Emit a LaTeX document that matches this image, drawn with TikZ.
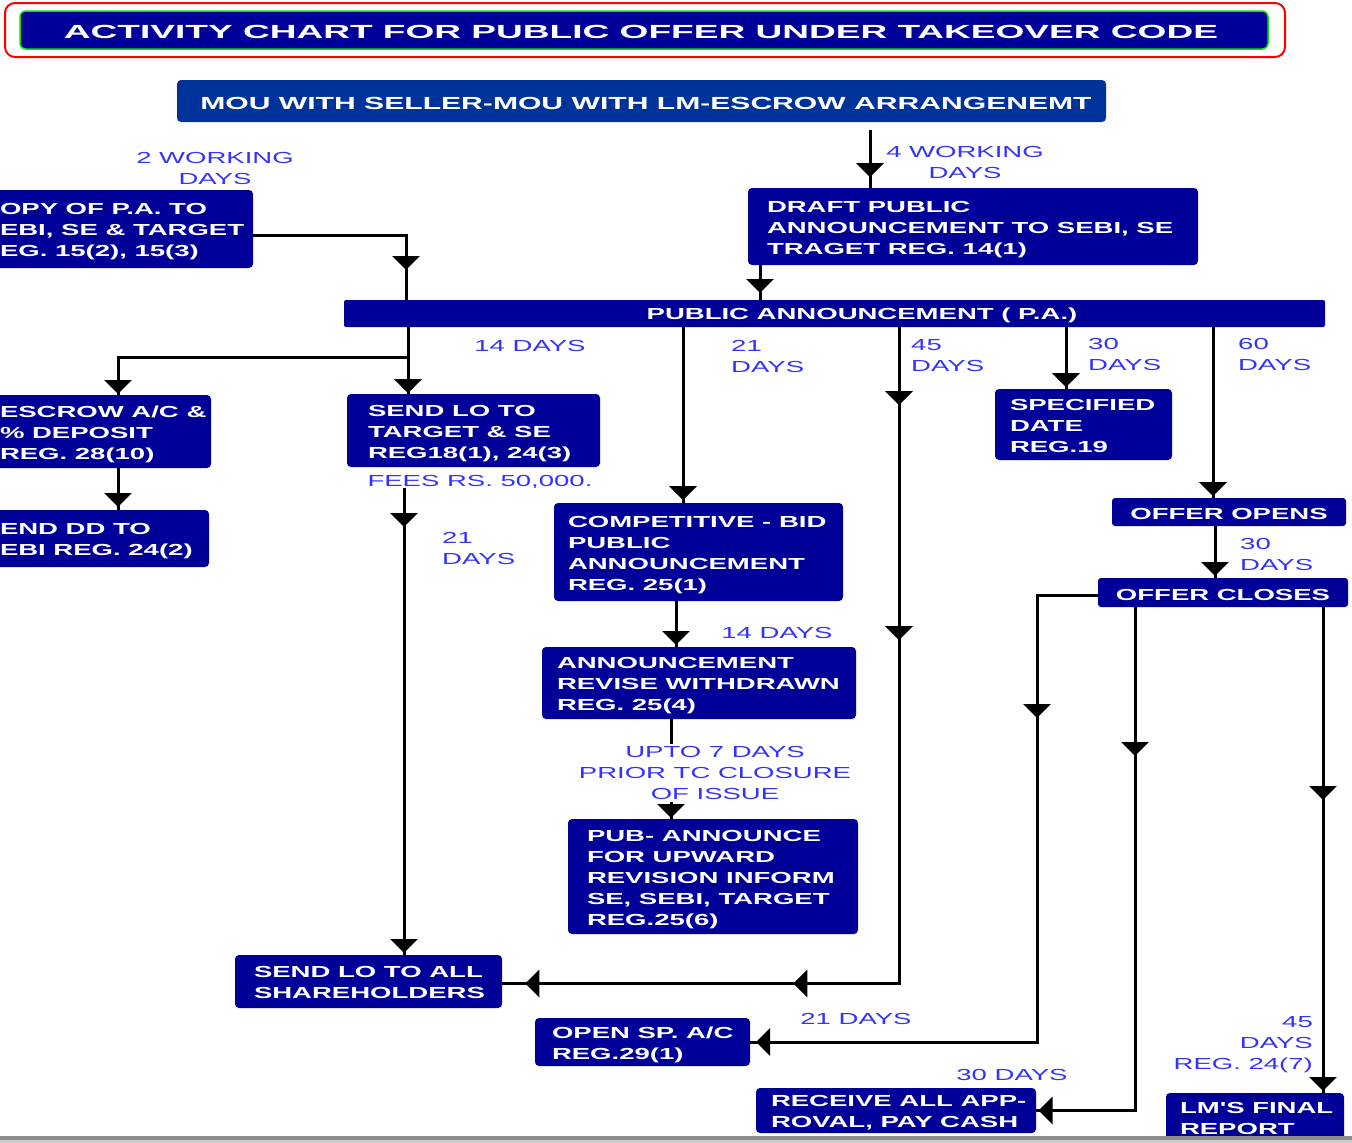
\documentclass[tikz,border=0pt]{standalone}
\usepackage{fontspec}
\newfontfamily\bxfont[FakeStretch=1.72]{Liberation Sans}
\newfontfamily\ttlfont[FakeStretch=1.95]{Liberation Sans}
\usetikzlibrary{arrows.meta,decorations.markings,calc}
\definecolor{navy}{RGB}{0,0,153}
\definecolor{moublue}{RGB}{0,51,153}
\definecolor{lblue}{RGB}{51,51,255}
\definecolor{tgreen}{RGB}{0,230,0}
\newcommand\tlines[2]{\raisebox{-2.5pt}[\height][\depth]{\makebox[#1][l]{\begin{tabular}{@{}l@{}}#2\end{tabular}}}}
\newcommand\dn[1]{\raisebox{-2pt}[\height][\depth]{#1}}
\tikzset{
  nbox/.style={fill=navy, rounded corners=4pt, text=white, font=\bxfont\bfseries\fontsize{16}{21}\selectfont, anchor=north west, inner ysep=0pt, outer sep=0pt},
  cbox/.style={fill=navy, rounded corners=3pt, text=white, font=\bxfont\bfseries\fontsize{16}{21}\selectfont, inner sep=0pt, outer sep=0pt},
  lbl/.style={text=lblue, font=\bxfont\fontsize{16}{21}\selectfont, inner sep=0pt},
  conn/.style={line width=3pt, black},
  tipat/.style={postaction={decorate, decoration={markings, mark=at position #1 with {\arrow{Triangle[width=27pt,length=14pt]}}}}},
}
\begin{document}
\begin{tikzpicture}[x=1pt,y=-1pt]
\useasboundingbox (0,0) rectangle (1352,1143);
\clip (0,0) rectangle (1352,1143);
\fill[white] (0,0) rectangle (1352,1143);

% title
\draw[red, line width=2pt, rounded corners=10pt] (5,3) rectangle (1285,57);
\node[fill=navy, draw=tgreen, line width=1.5pt, rounded corners=6pt, minimum width=1248pt, minimum height=38pt, inner sep=0pt, text=white, font=\ttlfont\bfseries\fontsize{19}{23}\selectfont] (title) at (644,30) {\dn{\hspace*{-6pt}ACTIVITY CHART FOR PUBLIC OFFER UNDER TAKEOVER CODE}};

\node[fill=moublue, rounded corners=4pt, minimum width=929pt, minimum height=42pt, inner sep=0pt, text=white, font=\bxfont\bfseries\fontsize{17.5}{21}\selectfont] (mou) at (641.5,101) {\dn{\hspace*{9pt}MOU WITH SELLER-MOU WITH LM-ESCROW ARRANGENEMT}};

% boxes
\node[nbox, minimum width=265pt, minimum height=78pt, inner xsep=12pt] (copy) at (-12,190) {\tlines{241pt}{OPY OF P.A. TO\\EBI, SE \& TARGET\\EG. 15(2), 15(3)}};
\node[nbox, minimum width=450pt, minimum height=77pt, inner xsep=19pt] (draft) at (748,188) {\tlines{412pt}{DRAFT PUBLIC\\ANNOUNCEMENT TO SEBI, SE\\TRAGET REG. 14(1)}};
\node[fill=navy, rounded corners=2pt, minimum width=981pt, minimum height=27pt, inner sep=0pt, text=white, font=\bxfont\bfseries\fontsize{16}{21}\selectfont] (pa) at (834.5,313.5) {\dn{\hspace*{55pt}PUBLIC ANNOUNCEMENT ( P.A.)}};
\node[nbox, minimum width=223pt, minimum height=73pt, inner xsep=12pt] (escrow) at (-12,395) {\tlines{199pt}{ESCROW A/C \&\\\% DEPOSIT\\REG. 28(10)}};
\node[nbox, minimum width=221pt, minimum height=57pt, inner xsep=12pt] (senddd) at (-12,510) {\tlines{197pt}{END DD TO\\EBI REG. 24(2)}};
\node[nbox, minimum width=253pt, minimum height=73pt, inner xsep=21pt] (sendlo) at (347,394) {\tlines{211pt}{SEND LO TO\\TARGET \& SE\\REG18(1), 24(3)}};
\node[nbox, minimum width=177pt, minimum height=71pt, inner xsep=15pt] (spec) at (995,389) {\tlines{147pt}{SPECIFIED\\DATE\\REG.19}};
\node[nbox, minimum width=289pt, minimum height=98pt, inner xsep=14pt] (comp) at (554,503) {\tlines{261pt}{COMPETITIVE - BID\\PUBLIC\\ANNOUNCEMENT\\REG. 25(1)}};
\node[nbox, minimum width=314pt, minimum height=72pt, inner xsep=15pt] (ann) at (542,647) {\tlines{284pt}{ANNOUNCEMENT\\REVISE WITHDRAWN\\REG. 25(4)}};
\node[nbox, minimum width=290pt, minimum height=115pt, inner xsep=19pt] (pub) at (568,819) {\tlines{252pt}{PUB- ANNOUNCE\\FOR UPWARD\\REVISION INFORM\\SE, SEBI, TARGET\\REG.25(6)}};
\node[nbox, minimum width=267pt, minimum height=53pt, inner xsep=19pt] (sendall) at (235,955) {\tlines{229pt}{SEND LO TO ALL\\SHAREHOLDERS}};
\node[nbox, minimum width=215pt, minimum height=48pt, inner xsep=17pt] (opensp) at (535,1018) {\tlines{181pt}{OPEN SP. A/C\\REG.29(1)}};
\node[nbox, minimum width=280pt, minimum height=45pt, inner xsep=15pt] (receive) at (756,1088) {\tlines{250pt}{RECEIVE ALL APP-\\ROVAL, PAY CASH}};
\node[nbox, minimum width=178pt, minimum height=48pt, inner xsep=14pt] (lm) at (1166,1093) {\tlines{150pt}{LM'S FINAL\\REPORT}};
\node[cbox, minimum width=234pt, minimum height=28pt] (opens) at (1229,512) {\dn{OFFER OPENS}};
\node[cbox, minimum width=250pt, minimum height=29pt] (closes) at (1223,592.5) {\dn{OFFER CLOSES}};

% connectors
\draw[conn, tipat=47pt] ($(870,0 |- mou.south)+(0,8)$) -- (870,0 |- draft.north);
\draw[conn, tipat=188pt] ([yshift=-6pt]copy.east) -| (406,0 |- pa.north);
\draw[conn, tipat=28pt] (760,0 |- draft.south) -- (760,0 |- pa.north);
\draw[conn, tipat=66pt] (408,0 |- pa.south) -- (408,0 |- sendlo.north);
\coordinate (b1) at (408,357);
\draw[conn, tipat=327pt] (b1) -| (118,0 |- escrow.north);
\draw[conn, tipat=173pt] (683,0 |- pa.south) -- (683,0 |- comp.north);
\draw[conn, tipat=78pt, tipat=313pt, tipat=762pt, tipat=1030pt] (899,0 |- pa.south) |- ([yshift=-2pt]sendall.east);
\draw[conn, tipat=60pt] (1066,0 |- pa.south) -- (1066,0 |- spec.north);
\draw[conn, tipat=169pt] (1213,0 |- pa.south) -- (1213,0 |- opens.north);
\draw[conn, tipat=39pt] (118,0 |- escrow.south) -- (118,0 |- senddd.north);
\draw[conn, tipat=39pt, tipat=465pt] ($(404,0 |- sendlo.south)+(0,21)$) -- (404,0 |- sendall.north);
\draw[conn, tipat=44pt] (676,0 |- comp.south) -- (676,0 |- ann.north);
\draw[conn, tipat=99pt] (671,0 |- ann.south) -- (671,0 |- pub.north);
\draw[conn, tipat=50pt] (1215,0 |- opens.south) -- (1215,0 |- closes.north);
\draw[conn, tipat=184pt, tipat=789pt] ([yshift=-2.5pt]closes.west) -| (1037,0 |- opensp.east) -- (opensp.east);
\draw[conn, tipat=149pt, tipat=600pt] (1135,0 |- closes.south) |- (receive.east);
\draw[conn, tipat=193pt, tipat=484pt] (1323,0 |- closes.south) -- (1323,0 |- lm.north);

% labels
\node[lbl, align=center] (l2wd) at (215,168) {2 WORKING\\DAYS};
\node[lbl, align=center] (l4wd) at (965,162) {4 WORKING\\DAYS};
\node[lbl] (l14a) at (530,346) {14 DAYS};
\node[lbl, align=left, anchor=west] (l21a) at (731,356) {21\\DAYS};
\node[lbl, align=left, anchor=west] (l45a) at (911,356) {45\\DAYS};
\node[lbl, align=left, anchor=west] (l30a) at (1088,354) {30\\DAYS};
\node[lbl, align=left, anchor=west] (l60) at (1238,354) {60\\DAYS};
\node[lbl] (fees) at (480,482) {FEES RS. 50,000.};
\node[lbl, align=left, anchor=west] (l21b) at (442,548) {21\\DAYS};
\node[lbl] (l14b) at (777,633) {14 DAYS};
\node[lbl, align=center, fill=white, inner ysep=2pt] (upto) at (715,773) {UPTO 7 DAYS\\PRIOR TC CLOSURE\\OF ISSUE};
\node[lbl, align=left, anchor=west] (l30b) at (1240,554) {30\\DAYS};
\node[lbl] (l21c) at (856,1019) {21 DAYS};
\node[lbl] (l30c) at (1012,1075) {30 DAYS};
\node[lbl, align=right, anchor=east] (l45b) at (1313,1045) {45\\DAYS\\REG. 24(7)};

% bottom rule
\fill[black!45] (0,1136) rectangle (1352,1139.5);
\fill[black!20] (0,1139.5) rectangle (1352,1143);
\end{tikzpicture}
\end{document}
